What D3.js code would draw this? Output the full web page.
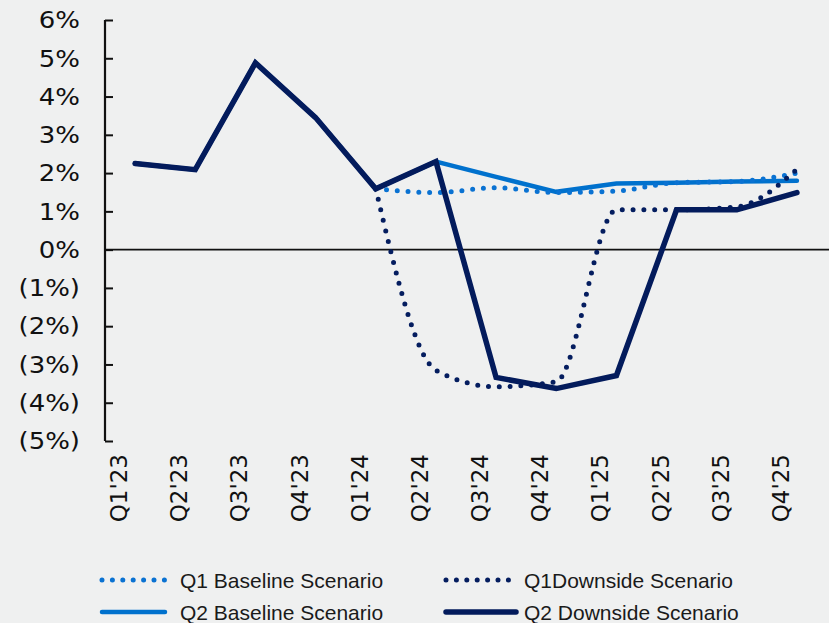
<!DOCTYPE html>
<head>
<meta charset="utf-8">
<title>Scenario Chart</title>
<style>
   body {
		   margin: 0;
		   background: #eff0f0;
   }
   .tick-label {
		   font: 23px "DejaVu Sans", Verdana, sans-serif;
		   fill: #111;
   }
   .legend-label {
		   font: 21px "Liberation Sans", Arial, sans-serif;
		   fill: #1a1a1a;
   }
</style>
</head>
<body>
<div id="chartDiv"></div>
<script src="https://d3js.org/d3.v7.min.js"></script>
<script>

   var width = 829;
   var height = 623;

   //	Data

   var quarters = ["Q1'23", "Q2'23", "Q3'23", "Q4'23", "Q1'24", "Q2'24",
				   "Q3'24", "Q4'24", "Q1'25", "Q2'25", "Q3'25", "Q4'25"];
   var yTicks = [6, 5, 4, 3, 2, 1, 0, -1, -2, -3, -4, -5];

   var q1Baseline = [2.25, 2.09, 4.88, 3.45, 1.59, 1.49, 1.62, 1.49, 1.53, 1.75, 1.78, 2.0];
   var q1Downside = [2.25, 2.09, 4.88, 3.45, 1.59, -3.15, -3.58, -3.45, 1.04, 1.04, 1.12, 2.1];
   var q2Baseline = [2.25, 2.09, 4.88, 3.45, 1.59, 2.3, 1.9, 1.51, 1.73, 1.75, 1.78, 1.8];
   var q2Downside = [2.25, 2.09, 4.88, 3.45, 1.59, 2.3, -3.34, -3.63, -3.29, 1.04, 1.04, 1.49];

   // index where the scenarios split from the shared history
   var splitAt = 4;

   var series = [
	   {name: "Q2 Baseline Scenario", values: q2Baseline, color: "#0071cd", width: 4.5, dotted: false},
	   {name: "Q1 Baseline Scenario", values: q1Baseline, color: "#0a72d2", width: 5, dotted: true},
	   {name: "Q1Downside Scenario", values: q1Downside, color: "#041d5f", width: 5, dotted: true},
	   {name: "Q2 Downside Scenario", values: q2Downside, color: "#031b5c", width: 5.5, dotted: false}
   ];

   var legendItems = [
	   {name: "Q1 Baseline Scenario", col: 0, row: 0},
	   {name: "Q1Downside Scenario", col: 1, row: 0},
	   {name: "Q2 Baseline Scenario", col: 0, row: 1},
	   {name: "Q2 Downside Scenario", col: 1, row: 1}
   ];

   //	Chart

   var svg = d3.select("#chartDiv")
	 .append("svg")
	   .attr("width", width)
	   .attr("height", height)
	   .style("display", "block");

   svg.append("rect")
	   .attr("width", width)
	   .attr("height", height)
	   .attr("fill", "#eff0f0");

   var x = d3.scaleBand()
	   .domain(quarters)
	   .range([105, 827]);

   var y = d3.scaleLinear()
	   .domain([-5, 6])
	   .range([441, 20]);

   function px(i) { return x(quarters[i]) + x.bandwidth() / 2; }

   // zero line
   svg.append("line")
	   .attr("x1", 105)
	   .attr("x2", width)
	   .attr("y1", y(0))
	   .attr("y2", y(0))
	   .attr("stroke", "#111")
	   .attr("stroke-width", 1.6);

   // y axis
   var yAxis = svg.append("g")
	   .attr("transform", "translate(105,0)")
	   .call(d3.axisRight(y).tickValues(yTicks).tickSize(8).tickFormat(""));
   yAxis.select(".domain").attr("stroke", "#111").attr("stroke-width", 2.2)
	   .attr("d", "M0," + y(6) + "V" + y(-5));
   yAxis.selectAll(".tick line").attr("stroke", "#111").attr("stroke-width", 2);

   svg.selectAll(".ylab")
	   .data(yTicks)
	   .enter().append("text")
	   .attr("class", "tick-label")
	   .attr("text-anchor", "end")
	   .attr("dy", "0.36em")
	   .attr("transform", function(d) { return "translate(80," + y(d) + ") scale(1.13,1)"; })
	   .text(function(d) { return d < 0 ? "(" + (-d) + "%)" : d + "%"; });

   // x labels
   svg.selectAll(".xlab")
	   .data(quarters)
	   .enter().append("text")
	   .attr("class", "tick-label")
	   .attr("text-anchor", "end")
	   .attr("transform", function(d, i) { return "translate(" + (px(i) - 8) + ",454) rotate(-90)"; })
	   .text(function(d) { return d; });

   // lines
   var straight = d3.line()
	   .x(function(d, i) { return px(i); })
	   .y(function(d) { return y(d); });
   var smooth = d3.line()
	   .defined(function(d, i) { return i >= splitAt; })
	   .x(function(d, i) { return px(i); })
	   .y(function(d) { return y(d); })
	   .curve(d3.curveMonotoneX);

   svg.selectAll(".series")
	   .data(series)
	   .enter().append("path")
	   .attr("fill", "none")
	   .attr("stroke", function(d) { return d.color; })
	   .attr("stroke-width", function(d) { return d.width; })
	   .attr("stroke-linecap", "round")
	   .attr("stroke-linejoin", function(d) { return d.dotted ? "round" : "miter"; })
	   .attr("stroke-dasharray", function(d) { return d.dotted ? "0 10.8" : null; })
	   .attr("d", function(d) { return d.dotted ? smooth(d.values) : straight(d.values); });

   // legend
   var colX = [[102, 165, 180], [446, 516, 524]];
   var rowY = [580, 612];
   var legend = svg.selectAll(".legend")
	   .data(legendItems)
	   .enter().append("g")
	   .attr("transform", function(d) { return "translate(0," + rowY[d.row] + ")"; });

   legend.append("line")
	   .attr("x1", function(d) { return colX[d.col][0]; })
	   .attr("x2", function(d) { return colX[d.col][1]; })
	   .attr("stroke", function(d) { return series.find(function(s) { return s.name == d.name; }).color; })
	   .attr("stroke-width", function(d) { return series.find(function(s) { return s.name == d.name; }).width; })
	   .attr("stroke-linecap", "round")
	   .attr("stroke-dasharray", function(d) { return series.find(function(s) { return s.name == d.name; }).dotted ? "0 10.4" : null; });

   legend.append("text")
	   .attr("class", "legend-label")
	   .attr("x", function(d) { return colX[d.col][2]; })
	   .attr("dy", "0.36em")
	   .text(function(d) { return d.name; });

</script>
</body>
